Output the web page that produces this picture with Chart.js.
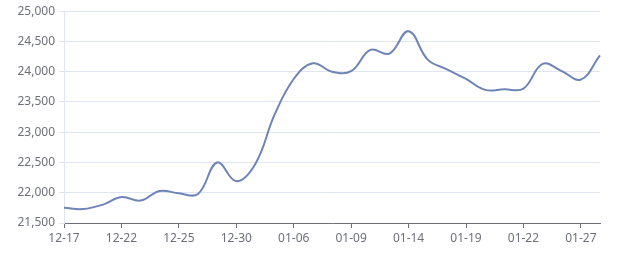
<!DOCTYPE html>
<html>
<head>
<meta charset="utf-8">
<script src="https://cdn.jsdelivr.net/npm/chart.js@4/dist/chart.umd.min.js"></script>
<style>
  html, body { margin: 0; padding: 0; background: #fff; }
  #wrap { width: 640px; height: 270px; position: relative; }
</style>
</head>
<body>
<div id="wrap"><canvas id="priceChart"></canvas></div>
<script>
// trading days shown on the x axis (every 3rd one gets a label)
const dates = [
  '12-17', '12-18', '12-19', '12-22', '12-23', '12-24', '12-25', '12-26', '12-29',
  '12-30', '12-31', '01-05', '01-06', '01-07', '01-08', '01-09', '01-12', '01-13',
  '01-14', '01-15', '01-16', '01-19', '01-20', '01-21', '01-22', '01-23', '01-26',
  '01-27', '01-28'
];

const prices = [
  21750, 21730, 21800, 21930, 21870, 22030, 21990, 21980, 22500,
  22190, 22480, 23290, 23880, 24140, 24000, 24010, 24360, 24300,
  24670, 24200, 24040, 23880, 23700, 23710, 23720, 24130, 24010,
  23870, 24270
];

const yMin = 21500;
const yMax = 25000;
const yStep = 500;

const labelEvery = 3;
const axisGray = '#6E7079';
const gridGray = '#E0E6F1';

const ctx = document.getElementById('priceChart').getContext('2d');

new Chart(ctx, {
  type: 'line',
  data: {
    labels: dates,
    datasets: [{
      data: prices,
      borderColor: '#6F84B6',
      borderWidth: 2,
      pointRadius: 0,
      pointHoverRadius: 0,
      tension: 0.4,
      fill: false
    }]
  },
  options: {
    responsive: true,
    maintainAspectRatio: false,
    animation: false,
    layout: {
      padding: { top: 10, right: 40, left: 0, bottom: 0 }
    },
    plugins: {
      legend: { display: false },
      tooltip: { enabled: false }
    },
    scales: {
      x: {
        offset: false,
        grid: {
          drawOnChartArea: false,
          tickLength: 5,
          color: c => (c.index % labelEvery === 0 ? axisGray : 'rgba(0,0,0,0)')
        },
        border: { color: axisGray, width: 1 },
        ticks: {
          autoSkip: false,
          maxRotation: 0,
          padding: 3,
          color: axisGray,
          font: { size: 12, family: '"Noto Sans", sans-serif' },
          callback: function(value, index) {
            return index % labelEvery === 0 ? this.getLabelForValue(value) : '';
          }
        },
        afterFit: scale => { scale.height = 47; }
      },
      y: {
        min: yMin,
        max: yMax,
        grid: {
          color: gridGray,
          tickLength: 5
        },
        border: { color: gridGray, width: 1 },
        ticks: {
          stepSize: yStep,
          padding: 4,
          color: axisGray,
          font: { size: 12, family: '"Noto Sans", sans-serif' },
          callback: v => v.toLocaleString('en-US')
        },
        afterFit: scale => { scale.width = 64; }
      }
    }
  }
});
</script>
</body>
</html>
